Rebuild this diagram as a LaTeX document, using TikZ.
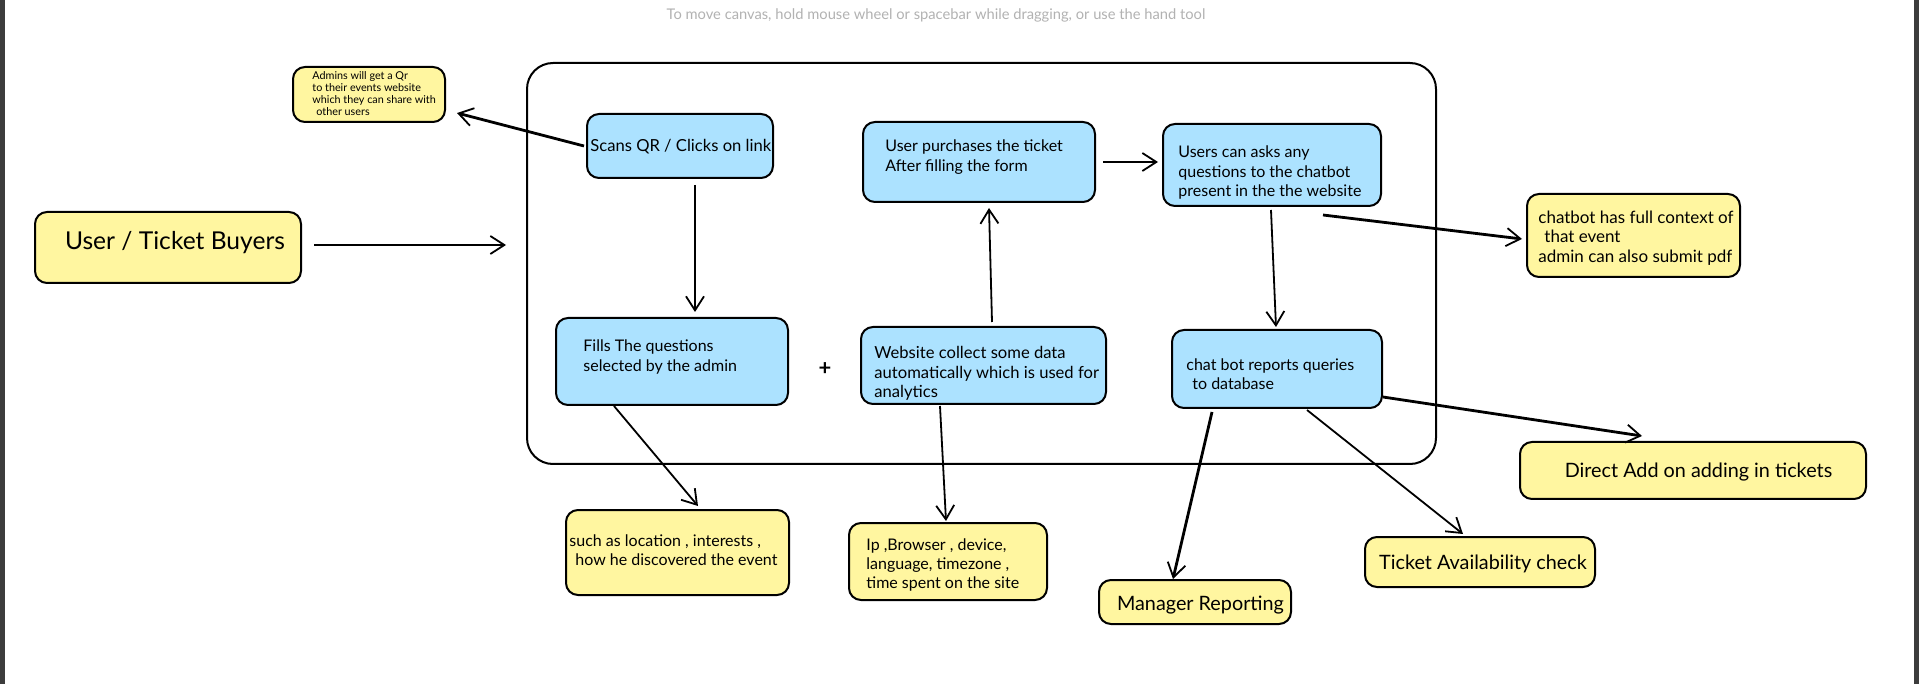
\documentclass[tikz,border=0pt]{standalone}
\usepackage{fontspec}
\setmainfont{Lato}
\usetikzlibrary{arrows.meta,calc}
\definecolor{bluefill}{RGB}{172,226,255}
\definecolor{yelfill}{RGB}{255,246,160}
\definecolor{hintgray}{RGB}{178,178,178}
\definecolor{edgegray}{RGB}{60,60,60}
\begin{document}
\begin{tikzpicture}[x=0.5pt,y=-0.5pt,
  box/.style={draw, line width=1pt, rounded corners=6pt, inner sep=0pt},
  bluebox/.style={box, fill=bluefill},
  yelbox/.style={box, fill=yelfill},
  txt/.style={anchor=west, align=left, inner sep=0pt, font=\fontsize{8}{9.6}\selectfont},
  bigtxt/.style={inner sep=0pt, font=\fontsize{9.9}{11}\selectfont},
  arr/.style={-{Straight Barb[length=7pt,width=9pt,line width=0.9pt]}, line width=0.8pt},
  thickarr/.style={arr, line width=1.4pt},
  thinarr/.style={arr, line width=0.9pt}]
\useasboundingbox (0,0) rectangle (1919,684);
\fill[white] (0,0) rectangle (1919,684);
\fill[edgegray] (0,0) rectangle (5,684);
\fill[edgegray] (1914,0) rectangle (1919,684);

\node[text=hintgray, inner sep=0pt, font=\fontsize{7.35}{8}\selectfont] (hint) at (936,15) {To move canvas, hold mouse wheel or spacebar while dragging, or use the hand tool};

\node[draw, line width=1pt, rounded corners=13pt, minimum width=454.5pt, minimum height=200.5pt] (flow) at (981.5,263.5) {};

% boxes
\node[yelbox, minimum width=76pt, minimum height=27.5pt] (admin) at (369,94.5) {};
\node[yelbox, minimum width=133pt, minimum height=35.5pt] (user) at (168,247.5) {};
\node[bluebox, minimum width=93pt, minimum height=32pt] (scan) at (680,146) {};
\node[bluebox, minimum width=116pt, minimum height=40pt] (purch) at (979,162) {};
\node[bluebox, minimum width=109pt, minimum height=41pt] (ask) at (1272,165) {};
\node[yelbox, minimum width=106.5pt, minimum height=41.5pt] (ctx) at (1633.5,235.5) {};
\node[bluebox, minimum width=116pt, minimum height=43.5pt] (fills) at (672,361.5) {};
\node[bluebox, minimum width=122.5pt, minimum height=38.5pt] (web) at (983.5,365.5) {};
\node[bluebox, minimum width=105pt, minimum height=39pt] (report) at (1277,369) {};
\node[yelbox, minimum width=111.5pt, minimum height=42.5pt] (such) at (677.5,552.5) {};
\node[yelbox, minimum width=99pt, minimum height=38.5pt] (ip) at (948,561.5) {};
\node[yelbox, minimum width=96pt, minimum height=22pt] (mgr) at (1195,602) {};
\node[yelbox, minimum width=115pt, minimum height=25pt] (avail) at (1480,562) {};
\node[yelbox, minimum width=173pt, minimum height=28.5pt] (direct) at (1693,470.5) {};

% texts
\node[txt, font=\fontsize{5.4}{6}\selectfont] (admin-t) at (312,94) {Admins will get a Qr\\to their events website\\which they can share with\\\hspace{2pt}other users};
\node[inner sep=0pt, font=\fontsize{12.3}{14}\selectfont] (user-t) at (175,243) {User / Ticket Buyers};
\node[txt, font=\fontsize{8.3}{10}\selectfont] (scan-t) at (590,147) {Scans QR / Clicks on link};
\node[txt] (purch-t) at (885,157) {User purchases the ticket\\After filling the form};
\node[txt] (ask-t) at (1178,172.5) {Users can asks any\\questions to the chatbot\\present in the the website};
\node[txt, font=\fontsize{8.5}{9.8}\selectfont] (ctx-t) at (1538,238) {chatbot has full context of\\\hspace{3pt}that event\\admin can also submit pdf};
\node[txt] (fills-t) at (583,357) {Fills The questions\\selected by the admin};
\node[txt, font=\fontsize{8.3}{9.8}\selectfont] (web-t) at (874,373.5) {Website collect some data\\automatically which is used for\\analytics};
\node[txt] (report-t) at (1186,374) {chat bot reports queries\\\hspace{3pt}to database};
\node[txt] (such-t) at (569,550.5) {such as location , interests ,\\\hspace{3pt}how he discovered the event};
\node[txt] (ip-t) at (866,565) {Ip ,Browser , device,\\language, timezone ,\\time spent on the site};
\node[bigtxt] (mgr-t) at (1200.5,605) {Manager Reporting};
\node[bigtxt] (avail-t) at (1483,564) {Ticket Availability check};
\node[bigtxt] (direct-t) at (1698.5,472) {Direct Add on adding in tickets};

\node[font=\fontsize{11}{12}\bfseries\selectfont] (plus) at (825,369) {+};

% connectors
\draw[thickarr] ($(scan.west)+(-2,0)$) -- ($(admin.east)+(11,18.5)$);
\draw[thickarr] ($(user.east)+(12,-2.5)$) -- ($(flow.west)+(-20,-18.5)$);
\draw[thinarr] ($(scan.south)+(15,6)$) -- ($(fills.north)+(23,-5)$);
\draw[thickarr] ($(purch.east)+(7,0)$) -- ($(ask.west)+(-4,-3)$);
\draw[thickarr] ($(ask.south)+(51,8)$) -- ($(ctx.west)+(-4,3.5)$);
\draw[thinarr] ($(ask.south)+(-1,3)$) -- ($(report.north)+(-1,-2)$);
\draw[thinarr] ($(web.north)+(8.5,-4)$) -- ($(purch.south)+(10,5)$);
\draw[thinarr] ($(fills.south)+(-58,0)$) -- ($(such.north)+(20.5,-3)$);
\draw[thinarr] ($(web.south)+(-43.5,1)$) -- ($(ip.north)+(-2,-1)$);
\draw[thickarr] ($(report.east)+(0,28)$) -- ($(direct.north)+(-51,-5)$);
\draw[thickarr] ($(report.south)+(-65,3)$) -- ($(mgr.north)+(-22,0)$);
\draw[thinarr] ($(report.south)+(30,1)$) -- ($(avail.north)+(-17,-2)$);
\end{tikzpicture}
\end{document}
